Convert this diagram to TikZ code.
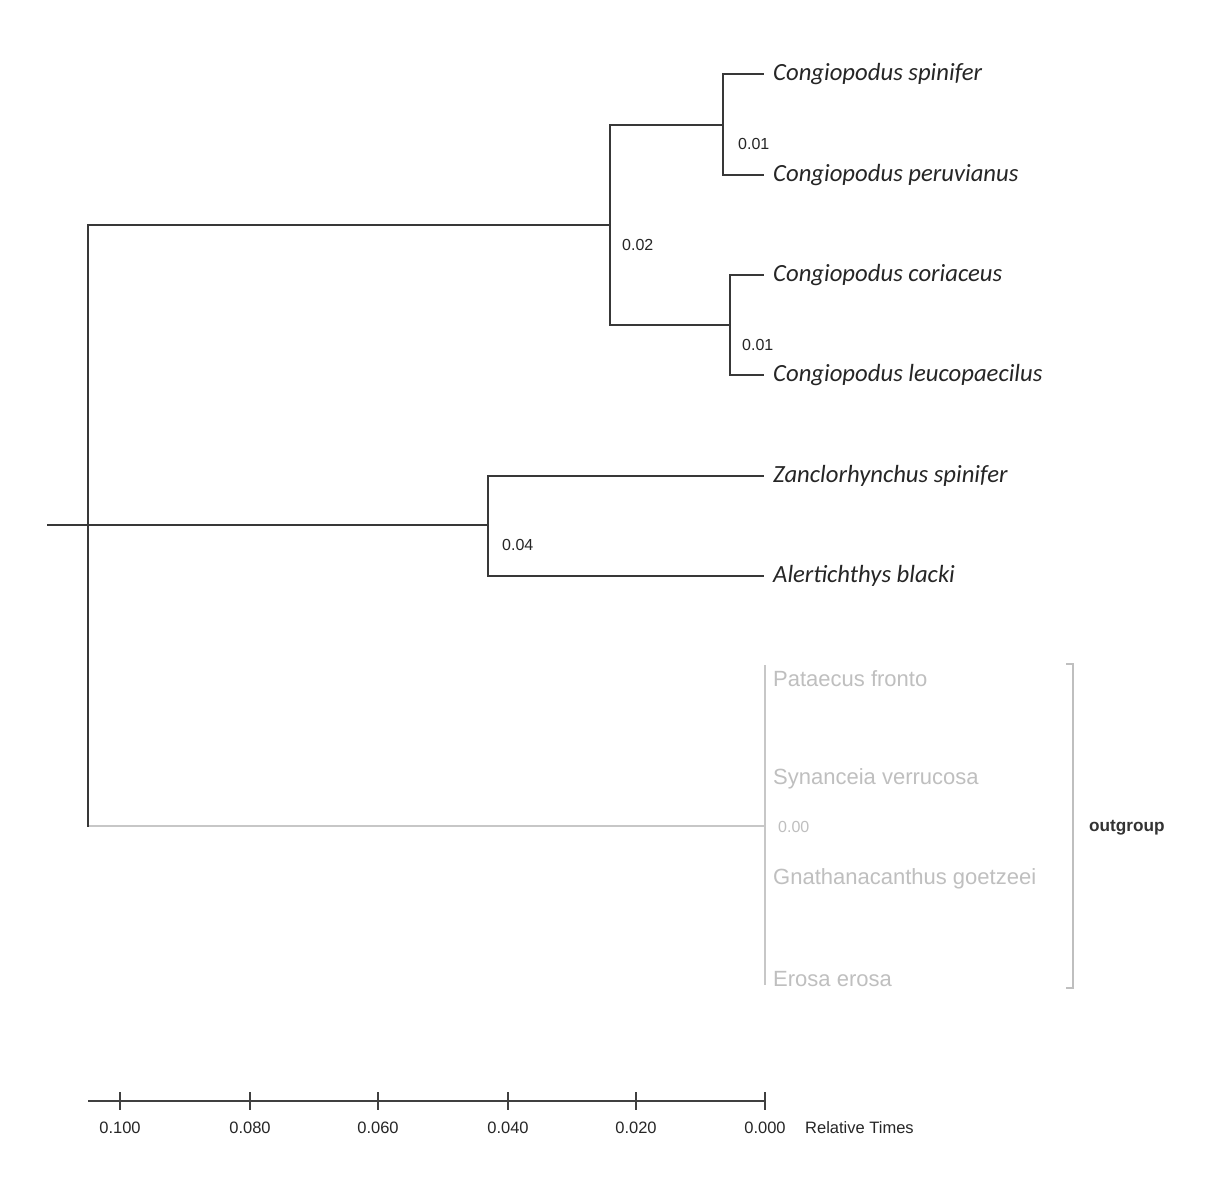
\documentclass[tikz,border=0pt]{standalone}
\usepackage{fontspec}
\setmainfont{Liberation Sans}
\newfontfamily\spfont{Carlito}
\begin{document}
\begin{tikzpicture}[x=1pt,y=-1pt,
  br/.style={draw=black!78, line width=1.8pt, line cap=rect},
  og/.style={draw=black!22, line width=1.6pt},
  sp/.style={anchor=west, inner sep=0pt, font=\spfont\itshape\fontsize{24.7}{26}\selectfont, text=black!85},
  ogsp/.style={anchor=west, inner sep=0pt, font=\fontsize{22}{24}\selectfont, text=black!25},
  val/.style={anchor=west, inner sep=0pt, font=\fontsize{16}{18}\selectfont, text=black!85},
  tk/.style={anchor=center, inner sep=0pt, font=\fontsize{16.5}{18}\selectfont, text=black!85},
  ax/.style={draw=black!75, line width=1.6pt}]
\useasboundingbox[fill=white] (0,0) rectangle (1214,1199);

% tree nodes
\coordinate (stub) at (48,525);
\coordinate (rtop) at (88,225);
\coordinate (rbot) at (88,826);
\coordinate (n1) at (610,225);
\coordinate (n2) at (723,125);
\coordinate (n3) at (730,325);
\coordinate (n4) at (488,525);
\coordinate (n5) at (765,826);
\coordinate (n5t) at (765,665);
\coordinate (n5b) at (765,985);
% leaf ends
\coordinate (L1) at (763,74);
\coordinate (L2) at (763,175);
\coordinate (L3) at (763,275);
\coordinate (L4) at (763,375);
\coordinate (L5) at (763,476);
\coordinate (L6) at (763,576);

% branches
\draw[og] (rbot) -- (n5);
\draw[og] (n5t) -- (n5b);
\draw[br] (rtop) -- (rbot);
\draw[br] (stub) -- (n4);
\draw[br] (rtop) -- (n1);
\draw[br] (n1) |- (n2);
\draw[br] (n1) |- (n3);
\draw[br] (L1) -| (n2) |- (L2);
\draw[br] (L3) -| (n3) |- (L4);
\draw[br] (L5) -| (n4) |- (L6);

% species
\node[sp] (s1) at (773,74) {Congiopodus spinifer};
\node[sp] (s2) at (773,175) {Congiopodus peruvianus};
\node[sp] (s3) at (773,275) {Congiopodus coriaceus};
\node[sp] (s4) at (773,375) {Congiopodus leucopaecilus};
\node[sp] (s5) at (773,476) {Zanclorhynchus spinifer};
\node[sp] (s6) at (773,576) {Alertichthys blacki};

\node[ogsp] (o1) at (773,679) {Pataecus fronto};
\node[ogsp] (o2) at (773,779) {Synanceia verrucosa};
\node[ogsp] (o3) at (773,879) {Gnathanacanthus goetzeei};
\node[ogsp] (o4) at (773,979) {Erosa erosa};

% node values
\node[val] (v1) at (738,144) {0.01};
\node[val] (v2) at (622,245) {0.02};
\node[val] (v3) at (742,345) {0.01};
\node[val] (v4) at (502,545) {0.04};
\node[val, text=black!25] (v5) at (778,827) {0.00};

% outgroup bracket
\coordinate (bt0) at (1066,664);
\coordinate (bt1) at (1073,664);
\coordinate (bb1) at (1073,988);
\coordinate (bb0) at (1066,988);
\draw[draw=black!25, line width=1.4pt] (bt0) -- (bt1) -- (bb1) -- (bb0);
\node[anchor=west, inner sep=0pt, font=\bfseries\fontsize{17.2}{19}\selectfont, text=black!80] (og) at (1089,828) {outgroup};

% time axis
\coordinate (a0) at (88,1101);
\coordinate (a1) at (765,1101);
\draw[ax] (a0) -- (a1);
\foreach \x/\l/\n in {120/0.100/t1, 250/0.080/t2, 378/0.060/t3, 508/0.040/t4, 636/0.020/t5, 765/0.000/t6}{
  \coordinate (\n top) at (\x,1092);
  \coordinate (\n bot) at (\x,1110);
  \draw[ax, line width=1.3pt] (\n top) -- (\n bot);
  \node[tk] (\n) at (\x,1128) {\l};
}
\node[anchor=west, inner sep=0pt, font=\fontsize{16.5}{18}\selectfont, text=black!85] (rt) at (805,1128) {Relative Times};
\end{tikzpicture}
\end{document}
